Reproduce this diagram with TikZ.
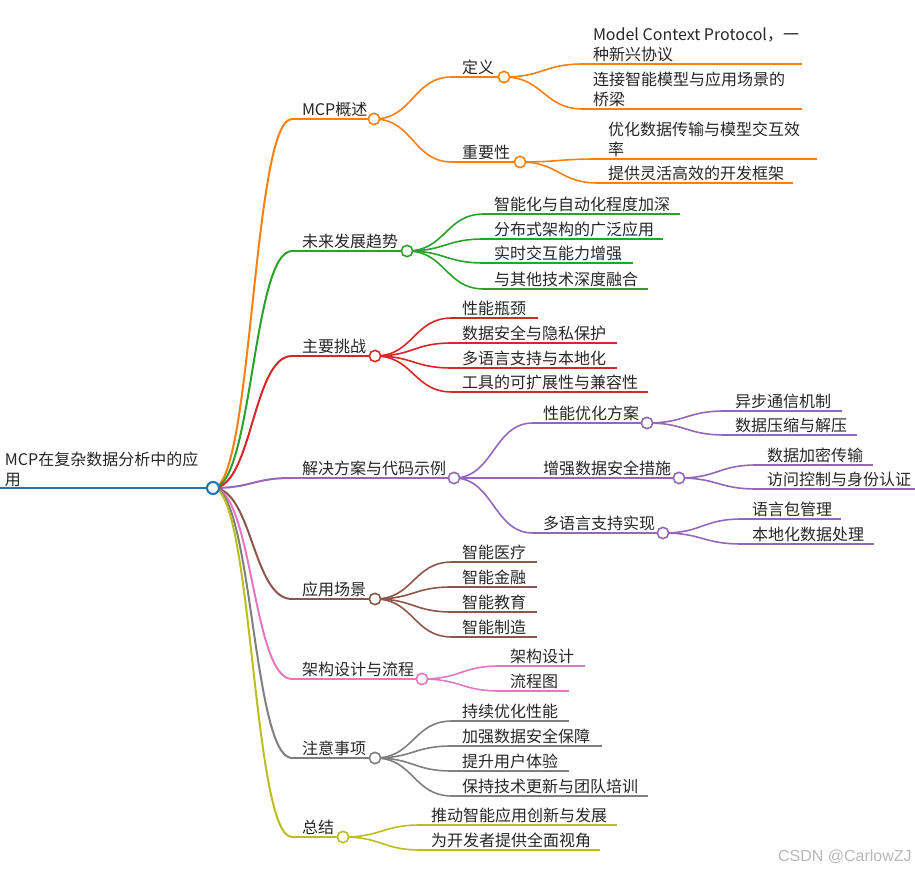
\documentclass[tikz,border=0pt]{standalone}
\usepackage{fontspec}
\newfontfamily\cjk{Noto Sans CJK SC}
\newfontfamily\wmfont{Liberation Sans}
\usetikzlibrary{calc}
\definecolor{mmblue}{HTML}{1F77B4}
\definecolor{mmorange}{HTML}{FF7F0E}
\definecolor{mmgreen}{HTML}{2CA02C}
\definecolor{mmred}{HTML}{D62728}
\definecolor{mmpurple}{HTML}{9467BD}
\definecolor{mmbrown}{HTML}{8C564B}
\definecolor{mmpink}{HTML}{E377C2}
\definecolor{mmgray}{HTML}{7F7F7F}
\definecolor{mmolive}{HTML}{BCBD22}
\tikzset{
  lbl/.style={anchor=south west, inner sep=0pt, outer sep=0pt, text=black!85, align=left,
    font=\cjk\fontsize{12pt}{15pt}\selectfont},
  dot/.style={circle, fill=white, draw, line width=1.2pt, minimum size=8.5pt, inner sep=0pt},
  l0/.style={line width=2.2pt},
  l1/.style={line width=1.5pt},
  l2/.style={line width=1.2pt},
  wm/.style={inner sep=0pt, text=black!28, font=\wmfont\fontsize{12pt}{14pt}\selectfont},
}
% markmap style link: horizontal tangents at both ends
\newcommand\mmlink[3][l2]{%
  \coordinate (mm-mid) at ($(#2)!0.5!(#3)$);
  \draw[#1] (#2) .. controls (mm-mid |- #2) and (mm-mid |- #3) .. (#3);}
\begin{document}
\begin{tikzpicture}[x=0.75pt,y=-0.75pt]
  \useasboundingbox (0,0) rectangle (915,873);
  % root
  \coordinate (root-s) at (0,488);
  \coordinate (root) at (213,488);
  \draw[l0,mmblue] (root-s) -- (root);
  \node[lbl] (root-t) at (5,486.5) {MCP在复杂数据分析中的应\\用};
  % first level
  \foreach \n/\y/\cx/\col/\txt in {gs/119/374/mmorange/MCP概述,
      qs/251/407/mmgreen/未来发展趋势, tz/356/375/mmred/主要挑战,
      fa/478/454/mmpurple/解决方案与代码示例, cj/599/375/mmbrown/应用场景,
      jg/679/422/mmpink/架构设计与流程, zy/758/375/mmgray/注意事项,
      zj/837/343/mmolive/总结} {
    \coordinate (\n-s) at (292,\y);
    \coordinate (\n) at (\cx,\y);
    \mmlink[l1,color=\col]{root}{\n-s}
    \draw[l1,color=\col] (\n-s) -- (\n);
    \node[lbl] (\n-t) at (302,\y-2.5) {\txt};
  }
  % MCP概述
  \begin{scope}[color=mmorange]
    \foreach \n/\y/\cx/\txt in {dy/77/504/定义, zyx/162/520/重要性} {
      \coordinate (\n-s) at (452,\y);
      \coordinate (\n) at (\cx,\y);
      \mmlink{gs}{\n-s}
      \draw[l2] (\n-s) -- (\n);
      \node[lbl] (\n-t) at (462,\y-2.5) {\txt};
    }
    \foreach \n/\y/\ex/\txt in {1/64/802/{Model Context Protocol，一\\种新兴协议},
        2/109/802/{连接智能模型与应用场景的\\桥梁}} {
      \coordinate (dy\n-s) at (583,\y);
      \coordinate (dy\n-e) at (\ex,\y);
      \mmlink{dy}{dy\n-s}
      \draw[l2] (dy\n-s) -- (dy\n-e);
      \node[lbl] (dy\n-t) at (593,\y-2.5) {\txt};
    }
    \foreach \n/\y/\ex/\txt in {1/159/817/{优化数据传输与模型交互效\\率},
        2/183/793/提供灵活高效的开发框架} {
      \coordinate (zyx\n-s) at (598,\y);
      \coordinate (zyx\n-e) at (\ex,\y);
      \mmlink{zyx}{zyx\n-s}
      \draw[l2] (zyx\n-s) -- (zyx\n-e);
      \node[lbl] (zyx\n-t) at (608,\y-2.5) {\txt};
    }
  \end{scope}
  % 未来发展趋势
  \begin{scope}[color=mmgreen]
    \foreach \n/\y/\ex/\txt in {1/214/680/智能化与自动化程度加深,
        2/239/663/分布式架构的广泛应用, 3/263/633/实时交互能力增强,
        4/289/648/与其他技术深度融合} {
      \coordinate (qs\n-s) at (484,\y);
      \coordinate (qs\n-e) at (\ex,\y);
      \mmlink{qs}{qs\n-s}
      \draw[l2] (qs\n-s) -- (qs\n-e);
      \node[lbl] (qs\n-t) at (494,\y-2.5) {\txt};
    }
  \end{scope}
  % 主要挑战
  \begin{scope}[color=mmred]
    \foreach \n/\y/\ex/\txt in {1/318/538/性能瓶颈, 2/343/617/数据安全与隐私保护,
        3/368/617/多语言支持与本地化, 4/392/648/工具的可扩展性与兼容性} {
      \coordinate (tz\n-s) at (452,\y);
      \coordinate (tz\n-e) at (\ex,\y);
      \mmlink{tz}{tz\n-s}
      \draw[l2] (tz\n-s) -- (tz\n-e);
      \node[lbl] (tz\n-t) at (462,\y-2.5) {\txt};
    }
  \end{scope}
  % 解决方案与代码示例
  \begin{scope}[color=mmpurple]
    \foreach \n/\y/\cx/\txt in {xn/423/647/性能优化方案, aq/478/679/增强数据安全措施,
        dyy/533/663/多语言支持实现} {
      \coordinate (\n-s) at (533,\y);
      \coordinate (\n) at (\cx,\y);
      \mmlink{fa}{\n-s}
      \draw[l2] (\n-s) -- (\n);
      \node[lbl] (\n-t) at (543,\y-2.5) {\txt};
    }
    \foreach \pa/\sx/\n/\y/\ex/\txt in {xn/725/1/411/842/异步通信机制,
        xn/725/2/435/857/数据压缩与解压, aq/757/1/465/873/数据加密传输,
        aq/757/2/489/915/访问控制与身份认证, dyy/742/1/519/841/语言包管理,
        dyy/742/2/544/874/本地化数据处理} {
      \coordinate (\pa\n-s) at (\sx,\y);
      \coordinate (\pa\n-e) at (\ex,\y);
      \mmlink{\pa}{\pa\n-s}
      \draw[l2] (\pa\n-s) -- (\pa\n-e);
      \node[lbl] (\pa\n-t) at (\sx+10,\y-2.5) {\txt};
    }
  \end{scope}
  % 应用场景
  \begin{scope}[color=mmbrown]
    \foreach \n/\y/\txt in {1/562/智能医疗, 2/587/智能金融, 3/612/智能教育, 4/637/智能制造} {
      \coordinate (cj\n-s) at (452,\y);
      \coordinate (cj\n-e) at (537,\y);
      \mmlink{cj}{cj\n-s}
      \draw[l2] (cj\n-s) -- (cj\n-e);
      \node[lbl] (cj\n-t) at (462,\y-2.5) {\txt};
    }
  \end{scope}
  % 架构设计与流程
  \begin{scope}[color=mmpink]
    \foreach \n/\y/\ex/\txt in {1/666/585/架构设计, 2/691/569/流程图} {
      \coordinate (jg\n-s) at (500,\y);
      \coordinate (jg\n-e) at (\ex,\y);
      \mmlink{jg}{jg\n-s}
      \draw[l2] (jg\n-s) -- (jg\n-e);
      \node[lbl] (jg\n-t) at (510,\y-2.5) {\txt};
    }
  \end{scope}
  % 注意事项
  \begin{scope}[color=mmgray]
    \foreach \n/\y/\ex/\txt in {1/721/569/持续优化性能, 2/746/602/加强数据安全保障,
        3/771/569/提升用户体验, 4/796/648/保持技术更新与团队培训} {
      \coordinate (zy\n-s) at (452,\y);
      \coordinate (zy\n-e) at (\ex,\y);
      \mmlink{zy}{zy\n-s}
      \draw[l2] (zy\n-s) -- (zy\n-e);
      \node[lbl] (zy\n-t) at (462,\y-2.5) {\txt};
    }
  \end{scope}
  % 总结
  \begin{scope}[color=mmolive]
    \foreach \n/\y/\ex/\txt in {1/825/617/推动智能应用创新与发展, 2/850/600/为开发者提供全面视角} {
      \coordinate (zj\n-s) at (421,\y);
      \coordinate (zj\n-e) at (\ex,\y);
      \mmlink{zj}{zj\n-s}
      \draw[l2] (zj\n-s) -- (zj\n-e);
      \node[lbl] (zj\n-t) at (431,\y-2.5) {\txt};
    }
  \end{scope}
  % dots on top
  \node[dot,draw=mmblue,line width=1.6pt,minimum size=9pt] (root-dot) at (root) {};
  \foreach \n/\col in {gs/mmorange, dy/mmorange, zyx/mmorange, qs/mmgreen, tz/mmred,
      fa/mmpurple, xn/mmpurple, aq/mmpurple, dyy/mmpurple, cj/mmbrown,
      jg/mmpink, zy/mmgray, zj/mmolive}
    \node[dot,draw=\col] (\n-dot) at (\n) {};
  \node[wm,anchor=east] (csdn) at (912,857) {CSDN @CarlowZJ};
\end{tikzpicture}
\end{document}
